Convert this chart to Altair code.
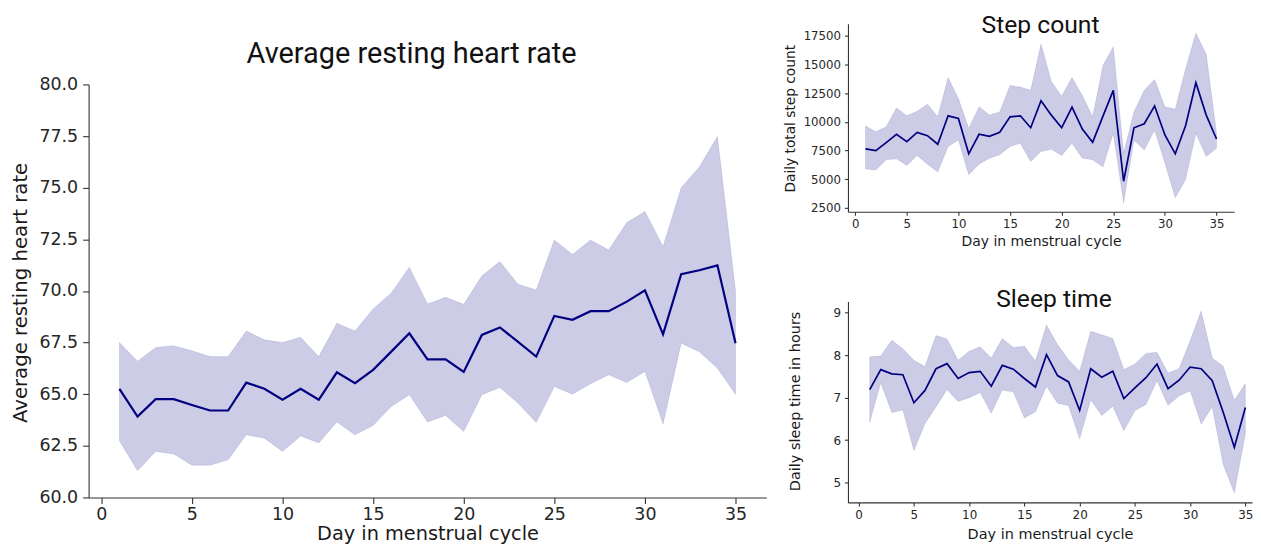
import altair as alt
import pandas as pd

days = list(range(1, 36))

heart_mean = [65.26, 63.92, 64.76, 64.76, 64.48, 64.21, 64.21, 65.56, 65.26, 64.73,
              65.26, 64.73, 66.06, 65.53, 66.18, 67.06, 67.95, 66.69, 66.69, 66.08,
              67.87, 68.23, 67.53, 66.82, 68.79, 68.60, 69.02, 69.02, 69.48, 70.03,
              67.90, 70.81, 71.00, 71.24, 67.47]
heart_hi = [67.50, 66.60, 67.26, 67.35, 67.10, 66.82, 66.82, 68.06, 67.63, 67.50,
            67.76, 66.82, 68.44, 68.06, 69.13, 69.90, 71.15, 69.37, 69.69, 69.35,
            70.73, 71.42, 70.32, 70.05, 72.47, 71.77, 72.47, 71.98, 73.31, 73.85,
            72.15, 75.00, 76.00, 77.48, 70.00]
heart_lo = [62.74, 61.29, 62.23, 62.10, 61.56, 61.56, 61.82, 63.03, 62.87, 62.23,
            62.98, 62.63, 63.65, 63.03, 63.48, 64.40, 64.97, 63.65, 63.97, 63.19,
            64.97, 65.32, 64.56, 63.63, 65.37, 65.00, 65.50, 65.94, 65.56, 66.10,
            63.56, 67.47, 67.06, 66.26, 65.00]

steps_mean = [7640, 7490, 8190, 8900, 8270, 9080, 8790, 8040, 10520, 10290,
              7210, 8910, 8730, 9080, 10430, 10520, 9480, 11840, 10580, 9480,
              11270, 9370, 8210, 10490, 12740, 4820, 9480, 9830, 11380, 8850,
              7210, 9650, 13400, 10580, 8500]
steps_hi = [9630, 9140, 9570, 11210, 10520, 10920, 11530, 10430, 13860, 12020,
            9420, 11300, 10580, 10860, 13170, 13020, 12740, 16770, 13510, 12220,
            13860, 12300, 10430, 14900, 16540, 7260, 10860, 12740, 13690, 11300,
            11090, 14610, 17720, 15900, 8990]
steps_lo = [5880, 5800, 6690, 6770, 6200, 7060, 6310, 5620, 7840, 8420,
            5390, 6310, 6830, 7120, 7840, 8130, 6540, 7410, 7610, 7060,
            8130, 6830, 6690, 6050, 8990, 2940, 8400, 7550, 9280, 6400,
            3380, 4960, 8990, 6980, 7700]

sleep_mean = [7.19, 7.66, 7.56, 7.54, 6.88, 7.17, 7.68, 7.80, 7.45, 7.59,
              7.62, 7.27, 7.76, 7.67, 7.45, 7.25, 8.01, 7.52, 7.37, 6.70,
              7.68, 7.48, 7.62, 6.98, 7.23, 7.47, 7.79, 7.21, 7.41, 7.72,
              7.68, 7.40, 6.65, 5.83, 6.77]
sleep_hi = [7.96, 7.98, 8.35, 8.15, 7.88, 7.73, 8.46, 8.38, 7.88, 8.09,
            8.20, 7.93, 8.39, 8.18, 8.21, 7.86, 8.71, 8.25, 7.89, 7.62,
            8.56, 8.48, 8.39, 7.66, 7.79, 8.04, 8.07, 7.58, 7.68, 8.34,
            9.04, 7.93, 7.74, 6.94, 7.33]
sleep_lo = [6.42, 7.35, 6.65, 6.71, 5.75, 6.39, 6.78, 7.19, 6.91, 7.00,
            7.12, 6.63, 7.18, 7.13, 6.52, 6.67, 7.27, 6.87, 6.81, 6.03,
            6.95, 6.58, 6.80, 6.22, 6.69, 6.84, 7.40, 6.82, 7.04, 7.16,
            6.38, 6.78, 5.42, 4.76, 6.15]

x_ticks = [0, 5, 10, 15, 20, 25, 30, 35]
heart_ticks = [60, 62.5, 65, 67.5, 70, 72.5, 75, 77.5, 80]
step_ticks = [2500, 5000, 7500, 10000, 12500, 15000, 17500]
sleep_ticks = [5, 6, 7, 8, 9]

titles = ['Average resting heart rate', 'Step count', 'Sleep time']

NAVY = '#000080'
AX = '#333333'
LBL = '#262626'


def make_df(mean, lo, hi):
    return pd.DataFrame({'day': days, 'mean': mean, 'lo': lo, 'hi': hi})


def axis(values, title, lsize, tsize, tick, lpad, fmt=None, **kw):
    opts = dict(values=values, title=title, grid=False, labelFont='DejaVu Sans',
                labelFontSize=lsize, labelColor=LBL, labelPadding=lpad, labelFlush=False,
                labelOverlap=False, tickSize=tick, tickColor=AX, tickWidth=1.1,
                domainColor=AX, domainWidth=1.1, titleFont='DejaVu Sans',
                titleFontSize=tsize, titleFontWeight='normal', titleColor='#1a1a1a')
    if fmt:
        opts['format'] = fmt
    opts.update(kw)
    return alt.Axis(**opts)


def panel(df, xdom, ydom, w, h, xax, yax, title, tsize, tx, ty, lw):
    xs = alt.Scale(domain=xdom, nice=False, zero=False)
    ys = alt.Scale(domain=ydom, nice=False, zero=False)
    base = alt.Chart(df)
    band = base.mark_area(fill=NAVY, fillOpacity=0.2, stroke=NAVY, strokeOpacity=0.1,
                          strokeWidth=1).encode(
        x=alt.X('day:Q', scale=xs, axis=xax),
        y=alt.Y('lo:Q', scale=ys, axis=yax),
        y2='hi:Q')
    line = base.mark_line(color=NAVY, strokeWidth=lw).encode(
        x=alt.X('day:Q', scale=xs, axis=xax),
        y=alt.Y('mean:Q', scale=ys, axis=yax))
    head = alt.Chart(pd.DataFrame({'t': [title]})).mark_text(
        font='Roboto', fontSize=tsize, baseline='alphabetic', align='center',
        color='#111111').encode(text='t:N', x=alt.value(tx), y=alt.value(ty))
    return alt.layer(band, line, head).properties(width=w, height=h)


main = panel(
    make_df(heart_mean, heart_lo, heart_hi), [-0.7, 36.7], [60, 80], 681, 415,
    axis(x_ticks, 'Day in menstrual cycle', 17.5, 19.4, 6, 2,
         titleY=27, titleBaseline='top'),
    axis(heart_ticks, 'Average resting heart rate', 17.5, 19.8, 6, 5, fmt='.1f',
         titleX=-68, titleY=209, titleBaseline='middle'),
    titles[0], 29, 324.5, -21.3, 2.2)

step = panel(
    make_df(steps_mean, steps_lo, steps_hi), [-0.7, 36.7], [2155, 18545], 388, 189,
    axis(x_ticks, 'Day in menstrual cycle', 11.8, 14, 3.5, 3.5,
         titleY=23, titleBaseline='top'),
    axis(step_ticks, 'Daily total step count', 11.8, 13.8, 3.5, 4, fmt='d',
         titleX=-57.5, titleY=95, titleBaseline='middle'),
    titles[1], 24.8, 193.5, 9.7, 1.7)

sleep = panel(
    make_df(sleep_mean, sleep_lo, sleep_hi), [-0.97, 35.6], [4.535, 9.265], 406, 202,
    axis(x_ticks, 'Day in menstrual cycle', 12, 14.5, 3.5, 3.5,
         titleY=25, titleBaseline='top'),
    axis(sleep_ticks, 'Daily sleep time in hours', 12, 14.5, 3.5, 4, fmt='d',
         titleX=-52.5, titleY=100, titleBaseline='middle'),
    titles[2], 24.8, 207, 6, 1.7)

spacer = alt.Chart(pd.DataFrame({'a': [0]})).mark_text(text='').encode(
    x=alt.value(0), y=alt.value(0)).properties(width=681, height=1)

left = alt.vconcat(spacer, main, spacing=60, bounds='flush')
right = alt.vconcat(step, sleep, spacing=90, bounds='flush')

chart = alt.hconcat(left, right, spacing=17).properties(
    padding={'left': 3, 'top': 3.5, 'right': 0, 'bottom': 0}
).configure_view(strokeWidth=0)

chart.save("out.html", embed_options={"renderer": "svg", "actions": False})
